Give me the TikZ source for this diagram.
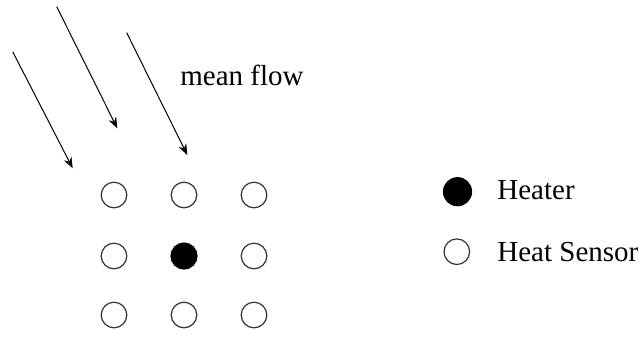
\documentclass[tikz,border=0pt]{standalone}
\usepackage{fontspec}
\setmainfont{Liberation Serif}
\usepackage{tikz}
\usetikzlibrary{arrows.meta}
\definecolor{ink}{HTML}{000000}
\definecolor{rim}{HTML}{333333}
\tikzset{
  sensor/.style ={circle, draw=rim, line width=0.6bp, fill=white, inner sep=0pt,
                  minimum size=12.8bp},
  heater/.style ={sensor, draw=ink, fill=ink, minimum size=13bp},
  fl/.style     ={draw=ink, line width=0.5bp, -{Stealth[length=5.5bp,width=4.2bp]}},
  tag/.style    ={font=\fontsize{14.5bp}{17bp}\selectfont, text=ink, inner sep=0pt},
}

\begin{document}
\begin{tikzpicture}[x=0.5bp,y=-0.5bp]
  \useasboundingbox (0,0) rectangle (641,336);
  % flow arrows
  \coordinate (fa0) at (12.7,51.7);   \coordinate (fa1) at (72.7,168.3);
  \coordinate (fb0) at (56.7,6.7);    \coordinate (fb1) at (117.3,128.3);
  \coordinate (fc0) at (126.7,32.7);  \coordinate (fc1) at (187.3,155);
  \draw[fl] (fa0) -- (fa1);
  \draw[fl] (fb0) -- (fb1);
  \draw[fl] (fc0) -- (fc1);
  \node[tag,anchor=base west] (flow) at (180,85) {mean flow};
  % array
  \node[sensor] (s11) at (114,195) {};
  \node[sensor] (s12) at (184,195) {};
  \node[sensor] (s13) at (254,195) {};
  \node[sensor] (s21) at (114,256) {};
  \node[heater] (h22) at (184,256) {};
  \node[sensor] (s23) at (254,256) {};
  \node[sensor] (s31) at (114,315) {};
  \node[sensor] (s32) at (184,315) {};
  \node[sensor] (s33) at (254,315) {};
  % legend
  \node[heater,minimum size=14bp] (kh) at (457.5,191.7) {};
  \node[tag,anchor=base west] (kht) at (497,199.3) {Heater};
  \node[sensor] (ks) at (456.8,251.7) {};
  \node[tag,anchor=base west] (kst) at (497,261.7) {Heat Sensor};
\end{tikzpicture}
\end{document}
